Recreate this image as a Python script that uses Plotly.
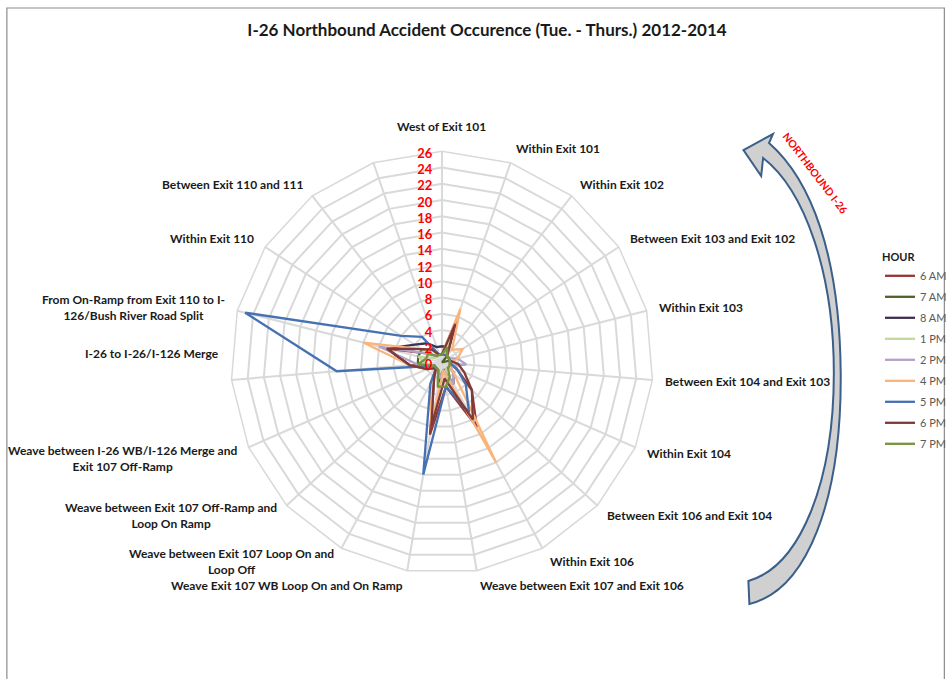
import math
import plotly.graph_objects as go

# Road segments along I-26 northbound, clockwise from the top
segments = [
    "West of Exit 101",
    "Within Exit 101",
    "Within Exit 102",
    "Between Exit 103 and Exit 102",
    "Within Exit 103",
    "Between Exit 104 and Exit 103",
    "Within Exit 104",
    "Between Exit 106 and Exit 104",
    "Within Exit 106",
    "Weave between Exit 107 and Exit 106",
    "Weave Exit 107 WB Loop On and On Ramp",
    "Weave between Exit 107 Loop On and<br>Loop Off",
    "Weave between Exit 107 Off-Ramp and<br>Loop On Ramp",
    "Weave between I-26 WB/I-126 Merge and<br>Exit 107 Off-Ramp",
    "I-26 to I-26/I-126 Merge",
    "From On-Ramp from Exit 110 to I-<br>126/Bush River Road Split",
    "Within Exit 110",
    "Between Exit 110 and 111",
    " ",
]

# Accident counts per hour of day
hours = ["6 AM", "7 AM", "8 AM", "1 PM", "2 PM", "4 PM", "5 PM", "6 PM", "7 PM"]
am6 = [1, 6, 1, 1, 1, 1, 2, 5, 9, 3, 9, 2, 1, 1, 4, 7, 2, 1, 1]
am7 = [1, 2, 1, 0, 1, 1, 1, 1, 1, 1, 2, 1, 1, 1, 3, 3, 3, 2, 1]
am8 = [2, 2, 1, 1, 1, 1, 1, 2, 3, 1, 3, 1, 1, 2, 4, 7, 4, 3, 2]
pm1 = [1, 3, 1, 1, 1, 1, 1, 1, 1, 2, 3, 1, 1, 1, 2, 3, 1, 1, 1]
pm2 = [1, 2, 1, 1, 2, 3, 1, 2, 3, 1, 2, 1, 1, 2, 3, 8, 2, 1, 1]
pm4 = [1, 7, 2, 3, 2, 1, 1, 2, 14, 1, 8, 3, 1, 2, 4, 10, 3, 2, 1]
pm5 = [1, 1, 1, 1, 1, 1, 2, 4, 7, 3, 14, 3, 1, 1, 13, 25, 6, 4, 1]
pm6 = [1, 5, 1, 1, 1, 2, 3, 5, 8, 2, 8, 2, 1, 2, 4, 7, 3, 2, 1]
pm7 = [1, 2, 1, 1, 1, 1, 1, 1, 2, 3, 3, 1, 1, 1, 3, 2, 2, 1, 1]
series = [am6, am7, am8, pm1, pm2, pm4, pm5, pm6, pm7]
colors = ["#953735", "#4F6228", "#3F3151", "#C3D69B", "#B3A2C7",
          "#F9B47C", "#4672B4", "#7E3A39", "#77933C"]

FONT = "Lato, Roboto, sans-serif"

fig = go.Figure()
for name, vals, col in zip(hours, series, colors):
    fig.add_trace(go.Scatterpolar(
        r=vals + vals[:1],
        theta=segments + segments[:1],
        mode="lines",
        name=name,
        legendgroup=name,
        line=dict(color=col, width=2.3),
    ))

W, H = 952, 679
cx, cy, R = 450, 362.5, 215
grid = "#D9D9D9"


def px(x, y):
    """Pixel position -> paper coordinates string."""
    return f"{x / W:.5f},{1 - y / H:.5f}"


fig.update_layout(
    width=W, height=H,
    margin=dict(l=0, r=0, t=0, b=0),
    paper_bgcolor="white",
    plot_bgcolor="white",
    font=dict(family=FONT, color="#000000"),
    title=dict(
        text="<b>I-26 Northbound Accident Occurence (Tue. - Thurs.) 2012-2014</b>",
        x=487 / W, xanchor="center", y=1 - 30 / H, yanchor="middle",
        font=dict(size=17, family=FONT, color="#1a1a1a"),
    ),
    polar=dict(
        domain=dict(x=[(cx - R) / W, (cx + R) / W],
                    y=[(H - cy - R) / H, (H - cy + R) / H]),
        bgcolor="white",
        gridshape="linear",
        radialaxis=dict(
            range=[0, 26], dtick=2, angle=90, side="counterclockwise",
            showline=False, ticks="",
            gridcolor=grid, gridwidth=1.5,
            tickfont=dict(size=13, color="#FF0000", family=FONT),
            tickprefix="<b>", ticksuffix="</b>",
        ),
        angularaxis=dict(
            direction="clockwise", rotation=90,
            gridcolor=grid, gridwidth=1.5,
            linecolor=grid, linewidth=1.5,
            ticks="", showticklabels=False,
        ),
    ),
    legend=dict(
        title=dict(text="<b>HOUR</b>", font=dict(size=11, color="#1a1a1a")),
        x=896 / W, xanchor="left", y=1 - 247 / H, yanchor="top",
        font=dict(size=11, color="#595959", family=FONT),
        tracegroupgap=2, itemwidth=30,
        bgcolor="rgba(0,0,0,0)",
    ),
)

# Category labels around the radar, centred on each spoke direction;
# a couple of labels are nudged vertically (pixels) for readability
label_r = R + 11
label_nudge = {"I-26 to I-26/I-126 Merge": -28,
               "Weave between I-26 WB/I-126 Merge and<br>Exit 107 Off-Ramp": 5}
n = len(segments)
for i, seg in enumerate(segments):
    a = math.radians(i * 360 / n)
    s, c = math.sin(a), math.cos(a)
    lx, ly = cx + label_r * s, cy - label_r * c + label_nudge.get(seg, 0)
    if abs(s) < 0.1:
        xa = "center"
        ya = "bottom" if c > 0 else "top"
    else:
        xa = "left" if s > 0 else "right"
        ya = "middle"
    fig.add_annotation(
        text=f"<b>{seg}</b>", xref="paper", yref="paper",
        x=lx / W, y=1 - ly / H, xanchor=xa, yanchor=ya,
        showarrow=False, align="center",
        font=dict(size=12, color="#1a1a1a", family=FONT),
    )

# Chart-area frame
fig.add_shape(type="rect", xref="paper", yref="paper",
              x0=7 / W, x1=1.01, y0=-0.01, y1=1 - 8 / H,
              line=dict(color="#8C8C8C", width=1.2), fillcolor="rgba(0,0,0,0)")

# Curved "northbound" arrow beside the chart
arrow = (
    f"M {px(763, 604)} "
    f"C {px(822, 590)} {px(857, 500)} {px(856, 373)} "
    f"C {px(855, 255)} {px(826, 180)} {px(783, 143)} "
    f"L {px(787, 134)} L {px(757, 150)} L {px(775, 176)} L {px(777, 158)} "
    f"C {px(819, 190)} {px(849, 272)} {px(849, 373)} "
    f"C {px(849, 482)} {px(815, 566)} {px(762, 581)} Z"
)
fig.add_shape(type="path", xref="paper", yref="paper", path=arrow,
              line=dict(color="#3A5F8A", width=2), fillcolor="#D0D0D0")

fig.add_annotation(
    text="<b>NORTHBOUND I-26</b>", xref="paper", yref="paper",
    x=830 / W, y=1 - 173 / H, xanchor="center", yanchor="middle",
    showarrow=False, textangle=52.5,
    font=dict(size=10.5, color="#FF0000", family=FONT),
)

fig.write_html("out.html")
